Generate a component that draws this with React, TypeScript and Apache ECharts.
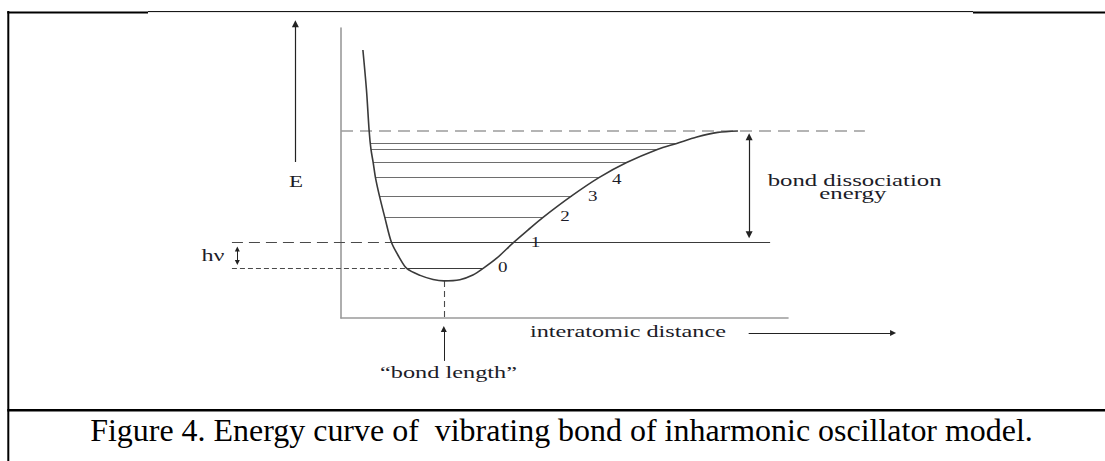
import React, { useEffect, useRef } from "react";
import * as echarts from "echarts";

const W = 1105;
const H = 461;

// Potential energy curve: interatomic distance (x) vs energy (y), arbitrary units
const curveX = [0.49, 0.57, 0.63, 0.67, 0.72, 0.77, 0.86, 0.98, 1.13, 1.3, 1.47, 1.77, 2.06, 2.3, 2.66, 2.95, 3.18, 3.49, 3.85, 4.18, 4.52, 5.16, 5.77, 6.39, 7.09, 7.51, 7.96, 8.43, 8.88];
const curveY = [9.24, 7.86, 6.45, 5.82, 5.36, 4.85, 4.21, 3.47, 2.6, 2.1, 1.71, 1.47, 1.33, 1.28, 1.32, 1.48, 1.71, 2.07, 2.59, 3.03, 3.47, 4.21, 4.84, 5.36, 5.82, 6.02, 6.24, 6.4, 6.45];

// Vibrational levels
const levelY = [1.71, 2.6, 3.47, 4.21, 4.84, 5.36, 5.82, 6.02];
const levelLeftX = [1.47, 1.13, 0.98, 0.86, 0.77, 0.72, 0.67, 0.66];
const levelRightX = [3.18, 9.6, 4.52, 5.16, 5.77, 6.39, 7.09, 7.51];
const levelLabels = ["0", "1", "2", "3", "4"];
const levelLabelX = [3.62, 4.35, 5.01, 5.63, 6.17];
const levelLabelY = [1.76, 2.62, 3.51, 4.2, 4.77];

// Dissociation limit and minimum
const dissociationY = 6.45;
const dissociationEndX = 11.72;
const minimumX = 2.3;
const minimumY = 1.28;

// Annotation geometry (data units)
const hvLeftX = -2.44;
const hvArrowX = -2.32;
const hvArrowY = [2.38, 1.91];
const eArrowX = -1.02;
const eArrowY = [5.38, 10.15];
const dissArrowX = 9.13;
const dissArrowY = [2.87, 6.25];
const bondArrowY = [-1.48, -0.38];
const distArrowX = [9.12, 12.35];
const distArrowY = -0.52;

const FONT = '"Liberation Serif", "Times New Roman", serif';
const TEXT = "#1c1c28";

const measure = (text: string, font: string) => {
  const c = document.createElement("canvas").getContext("2d")!;
  c.font = font;
  return c.measureText(text).width;
};

function buildOption() {
  const hiddenAxis = (max: number) => ({
    type: "value",
    min: 0,
    max,
    axisLine: { show: true, onZero: false, lineStyle: { color: "#9a9a9a", width: 1.6 } },
    axisTick: { show: false },
    axisLabel: { show: false },
    splitLine: { show: false },
  });

  const seg = (name: string, coords: number[][][], color: string, width: number, type: any, extra: any = {}) => ({
    name,
    type: "lines",
    coordinateSystem: "cartesian2d",
    clip: false,
    silent: true,
    data: coords.map((c) => ({ coords: c })),
    lineStyle: { color, width, type, opacity: 1 },
    ...extra,
  });

  return {
    animation: false,
    backgroundColor: "#ffffff",
    grid: { left: 341, top: 28, width: 447, height: 290, outerBoundsMode: "none" },
    xAxis: hiddenAxis(10),
    yAxis: hiddenAxis(10),
    series: [
      {
        name: "levels",
        type: "lines",
        coordinateSystem: "cartesian2d",
        clip: false,
        silent: true,
        data: levelY.map((y, i) => ({
          coords: [
            [levelLeftX[i], y],
            [levelRightX[i], y],
          ],
          lineStyle: { color: i <= 1 ? "#3a3a3a" : "#6e6e6e", width: 1.2, opacity: 1 },
        })),
      },
      seg("dissociation", [[[0, dissociationY], [dissociationEndX, dissociationY]]], "#9c9c9c", 1.6, [12, 7]),
      seg("hvTop", [[[hvLeftX, levelY[1]], [levelLeftX[1], levelY[1]]]], "#4a4a4a", 1.1, [11, 6]),
      seg("hvBottom", [[[hvLeftX, levelY[0]], [levelLeftX[0], levelY[0]]]], "#4a4a4a", 1.1, [5, 3]),
      seg("minimum", [[[minimumX, minimumY], [minimumX, 0]]], "#4a4a4a", 1.1, [6, 4]),
      seg("eArrow", [[[eArrowX, eArrowY[0]], [eArrowX, eArrowY[1]]]], "#222", 1.2, "solid", { symbol: ["none", "triangle"], symbolSize: [0, 7] }),
      seg("bondArrow", [[[minimumX, bondArrowY[0]], [minimumX, bondArrowY[1]]]], "#222", 1, "solid", { symbol: ["none", "triangle"], symbolSize: [0, 6] }),
      seg("distArrow", [[[distArrowX[0], distArrowY], [distArrowX[1], distArrowY]]], "#222", 1, "solid", { symbol: ["none", "triangle"], symbolSize: [0, 6] }),
      seg("dissArrow", [[[dissArrowX, dissArrowY[0]], [dissArrowX, dissArrowY[1]]]], "#222", 1.2, "solid", { symbol: ["triangle", "triangle"], symbolSize: [7, 7] }),
      seg("hvArrow", [[[hvArrowX, hvArrowY[0]], [hvArrowX, hvArrowY[1]]]], "#222", 1, "solid", { symbol: ["triangle", "triangle"], symbolSize: [5, 5] }),
      {
        name: "potential",
        type: "line",
        smooth: 0.3,
        symbol: "none",
        clip: false,
        silent: true,
        z: 4,
        data: curveX.map((x, i) => [x, curveY[i]]),
        lineStyle: { color: "#3a3a3a", width: 1.6 },
      },
    ],
  };
}

function buildGraphic(toPx: (x: number, y: number) => number[]) {
  const els: any[] = [];
  const line = (x1: number, y1: number, x2: number, y2: number, w: number) =>
    els.push({ type: "line", silent: true, z: 10, shape: { x1, y1, x2, y2 }, style: { stroke: "#000", lineWidth: w } });

  // frame
  line(8.3, 11, 8.3, H, 2);
  line(7.3, 12.5, 148, 12.5, 2);
  line(148, 11.6, 973, 11.6, 1);
  line(973, 12.5, W, 12.5, 2);
  line(7.3, 410.3, W, 410.3, 2.5);

  const text = (t: string, x: number, y: number, font: string, sx: number, fill: string) =>
    els.push({
      type: "text",
      silent: true,
      z: 10,
      x,
      y,
      scaleX: sx,
      style: {
        text: t,
        x: 0,
        y: 0,
        font,
        fill,
        textAlign: "center",
        textVerticalAlign: "middle",
        align: "center",
        verticalAlign: "middle",
      },
    });

  // label placed at data point, horizontally fitted to the reference's width
  const at = (x: number, y: number, t: string, size: number, width: number) => {
    const p = toPx(x, y);
    const font = `${size}px ${FONT}`;
    text(t, p[0], p[1], font, width / measure(t, font), TEXT);
  };

  const digitWidth = 9.5;
  levelLabels.forEach((l, i) => at(levelLabelX[i], levelLabelY[i], l, 15, digitWidth));
  at(-1.007, 4.72, "E", 17, 14);
  at(-2.864, 2.17, "h\u03bd", 17, 23);
  at(11.49, 4.74, "bond dissociation", 17, 174);
  at(11.45, 4.31, "energy", 17, 67);
  at(6.42, -0.47, "interatomic distance", 17, 196);
  at(2.405, -1.88, "\u201cbond length\u201d", 17, 137);

  // caption
  const cap = "Figure 4. Energy curve of  vibrating bond of inharmonic oscillator model.";
  const capFont = `32px ${FONT}`;
  text(cap, 561.5, 430, capFont, 943 / measure(cap, capFont), "#000");
  return els;
}

export default function App() {
  const ref = useRef<HTMLDivElement>(null);
  useEffect(() => {
    const el = ref.current!;
    const chart = echarts.init(el, null, { renderer: "svg" });
    chart.setOption(buildOption() as any);
    const toPx = (x: number, y: number) => chart.convertToPixel({ gridIndex: 0 } as any, [x, y]) as number[];
    chart.setOption({ graphic: buildGraphic(toPx) } as any);
    return () => chart.dispose();
  }, []);
  return <div ref={ref} style={{ position: "fixed", left: 0, top: 0, width: W, height: H, background: "#fff" }} />;
}
